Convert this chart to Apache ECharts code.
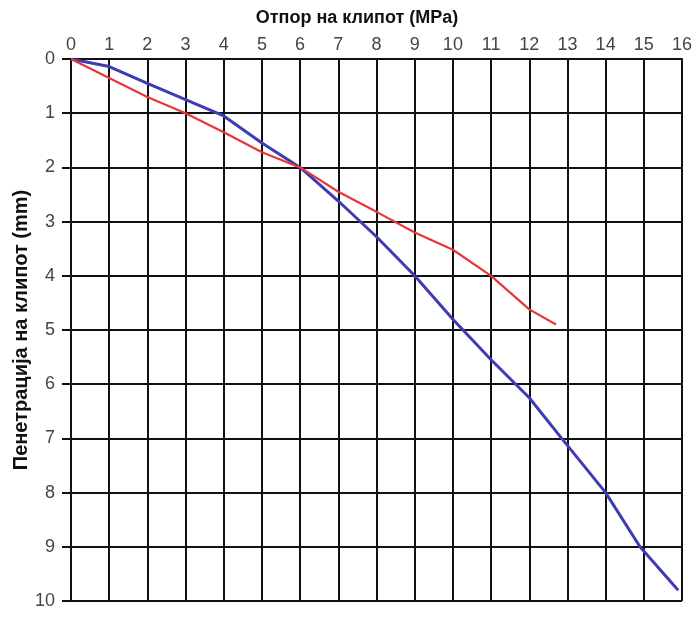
<!DOCTYPE html>
<html>
<head>
<meta charset="utf-8">
<script src="https://cdn.jsdelivr.net/npm/echarts@6/dist/echarts.min.js"></script>
<style>html,body{margin:0;padding:0;background:#fff}#c{width:693px;height:623px}</style>
</head>
<body>
<div id="c"></div>
<script>
const xTitle = 'Отпор на клипот (MPa)';
const yTitle = 'Пенетрација на клипот (mm)';
const blueX = [0, 1, 2, 3, 4, 5, 6, 7, 8, 9, 10, 11, 12, 12.85, 14, 14.9, 15.9];
const blueY = [0, 0.14, 0.45, 0.75, 1.05, 1.55, 2.0, 2.62, 3.28, 4.0, 4.8, 5.55, 6.25, 7.0, 8.0, 9.0, 9.8];
const redX = [0, 1, 2, 3, 4, 5, 6, 7, 8, 9, 10, 11, 12, 12.7];
const redY = [0, 0.35, 0.7, 1.0, 1.35, 1.72, 2.0, 2.45, 2.82, 3.2, 3.52, 4.0, 4.62, 4.9];

const pair = (xs, ys) => xs.map((x, i) => [x, ys[i]]);
const chart = echarts.init(document.getElementById('c'));
chart.setOption({
  animation: false,
  backgroundColor: '#fff',
  title: {
    text: xTitle, left: 352, top: 4, textAlign: 'center',
    textStyle: { fontFamily: 'Liberation Sans', fontSize: 18, fontWeight: 'bold', color: '#111' }
  },
  grid: { left: 71, right: 11, top: 59, bottom: 22, containLabel: false, outerBoundsMode: 'none' },
  xAxis: {
    type: 'value', position: 'top', min: 0, max: 16, interval: 1,
    axisLine: { show: true, lineStyle: { color: '#111', width: 2 } },
    axisTick: { show: false },
    axisLabel: { color: '#444', fontSize: 18, fontFamily: 'Liberation Sans', margin: 5 },
    splitLine: { show: true, lineStyle: { color: '#111', width: 2 } }
  },
  yAxis: {
    type: 'value', inverse: true, min: 0, max: 10, interval: 1,
    name: yTitle, nameLocation: 'middle', nameGap: 40, nameRotate: 90, nameMoveOverlap: false,
    nameTextStyle: { fontFamily: 'Liberation Sans', fontSize: 20, fontWeight: 'bold', color: '#111' },
    axisLine: { show: true, lineStyle: { color: '#111', width: 2 } },
    axisTick: { show: true, length: 9, lineStyle: { color: '#111', width: 2 } },
    axisLabel: { color: '#444', fontSize: 18, fontFamily: 'Liberation Sans', margin: 16 },
    splitLine: { show: true, lineStyle: { color: '#111', width: 2 } }
  },
  series: [
    { type: 'line', data: pair(blueX, blueY), showSymbol: false, lineStyle: { color: '#3c3cb4', width: 3 } },
    { type: 'line', data: pair(redX, redY), showSymbol: false, lineStyle: { color: '#e8363a', width: 2.2 } }
  ]
});
</script>
</body>
</html>
